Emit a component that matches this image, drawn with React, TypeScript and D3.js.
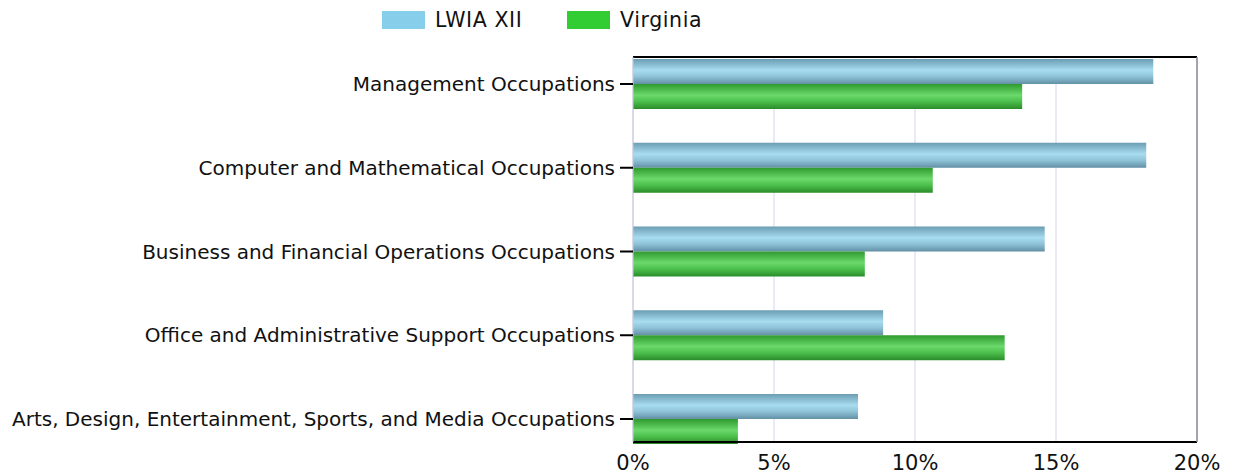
import React, { useRef, useEffect } from "react";
import * as d3 from "d3";

const CATEGORIES = [
  "Management Occupations",
  "Computer and Mathematical Occupations",
  "Business and Financial Operations Occupations",
  "Office and Administrative Support Occupations",
  "Arts, Design, Entertainment, Sports, and Media Occupations",
];
const SERIES = ["LWIA XII", "Virginia"];
const LWIA_VALUES = [18.45, 18.2, 14.6, 8.87, 7.98];
const VIRGINIA_VALUES = [13.8, 10.63, 8.22, 13.18, 3.72];
const X_TICKS = [0, 5, 10, 15, 20];

const LEGEND_COLORS = ["#87ceeb", "#32cd32"];
const GRAD_STOPS = [
  ["#6b9db3", "#a8dcef", "#8fc3d8", "#6290a5"],
  ["#2f9a2f", "#6bd96b", "#4cbf4c", "#2a8c2a"],
];

const W = 1233;
const H = 475;

const App: React.FC = () => {
  const svgRef = useRef<SVGSVGElement | null>(null);

  useEffect(() => {
    if (!svgRef.current) return;
    const svg = d3.select(svgRef.current);
    svg.selectAll("*").remove();

    const margin = { top: 57, right: 36, bottom: 33, left: 633 };
    const innerW = W - margin.left - margin.right;
    const innerH = H - margin.top - margin.bottom;
    const font = "'DejaVu Sans', Verdana, sans-serif";

    const defs = svg.append("defs");
    GRAD_STOPS.forEach((stops, i) => {
      const grad = defs
        .append("linearGradient")
        .attr("id", `grad-${i}`)
        .attr("x1", 0)
        .attr("y1", 0)
        .attr("x2", 0)
        .attr("y2", 1);
      [0, 0.45, 0.7, 1].forEach((o, j) =>
        grad.append("stop").attr("offset", o).attr("stop-color", stops[j])
      );
    });

    const x = d3.scaleLinear().domain([0, 20]).range([0, innerW]);
    const y = d3
      .scalePoint<string>()
      .domain(CATEGORIES)
      .range([27, innerH - 23]);
    const barH = 25;

    const g = svg
      .append("g")
      .attr("transform", `translate(${margin.left},${margin.top})`);

    /* grid */
    g.append("g")
      .selectAll("line")
      .data(X_TICKS)
      .join("line")
      .attr("x1", (d) => x(d))
      .attr("x2", (d) => x(d))
      .attr("y1", 0)
      .attr("y2", innerH)
      .attr("stroke", "#e2e2f4")
      .attr("stroke-width", 1.5);

    /* bars */
    const rows = CATEGORIES.map((c, i) => ({
      cat: c,
      vals: [LWIA_VALUES[i], VIRGINIA_VALUES[i]],
    }));
    rows.forEach((r) => {
      r.vals.forEach((v, si) => {
        const top = y(r.cat)! + (si === 0 ? -barH : 0);
        g.append("rect")
          .attr("x", x(0))
          .attr("y", top)
          .attr("width", x(v) - x(0))
          .attr("height", barH)
          .attr("fill", `url(#grad-${si})`);
      });
    });

    /* frame */
    g.append("line")
      .attr("x1", 0).attr("x2", innerW).attr("y1", 0).attr("y2", 0)
      .attr("stroke", "#000").attr("stroke-width", 2);
    g.append("line")
      .attr("x1", 0).attr("x2", innerW).attr("y1", innerH).attr("y2", innerH)
      .attr("stroke", "#000").attr("stroke-width", 2);
    g.append("line")
      .attr("x1", innerW).attr("x2", innerW).attr("y1", 0).attr("y2", innerH)
      .attr("stroke", "#8a8a9a").attr("stroke-width", 1.5);
    g.append("line")
      .attr("x1", 0).attr("x2", 0).attr("y1", 0).attr("y2", innerH)
      .attr("stroke", "#c8c8d8").attr("stroke-width", 1);

    /* y axis ticks + labels */
    const yg = g.append("g");
    yg.selectAll("line")
      .data(CATEGORIES)
      .join("line")
      .attr("x1", -13)
      .attr("x2", 0)
      .attr("y1", (d) => y(d)!)
      .attr("y2", (d) => y(d)!)
      .attr("stroke", "#000")
      .attr("stroke-width", 2);
    yg.selectAll("text")
      .data(CATEGORIES)
      .join("text")
      .attr("x", -18)
      .attr("y", (d) => y(d)!)
      .attr("dy", "0.35em")
      .attr("text-anchor", "end")
      .attr("font-family", font)
      .attr("font-size", "20px")
      .attr("fill", "#111")
      .text((d) => d);

    /* x tick labels */
    g.append("g")
      .selectAll("text")
      .data(X_TICKS)
      .join("text")
      .attr("x", (d) => x(d))
      .attr("y", innerH + 28)
      .attr("text-anchor", "middle")
      .attr("font-family", font)
      .attr("font-size", "21px")
      .attr("fill", "#111")
      .text((d) => `${d}%`);

    /* legend */
    const legendX = [382, 567];
    const lg = svg.append("g");
    SERIES.forEach((s, i) => {
      lg.append("rect")
        .attr("x", legendX[i])
        .attr("y", 11)
        .attr("width", 43)
        .attr("height", 18)
        .attr("fill", LEGEND_COLORS[i]);
      lg.append("text")
        .attr("x", legendX[i] + 53)
        .attr("y", 20)
        .attr("dy", "0.35em")
        .attr("font-family", font)
        .attr("font-size", "20.5px")
        .attr("letter-spacing", "0.6px")
        .attr("fill", "#111")
        .text(s);
    });
  }, []);

  return (
    <svg
      ref={svgRef}
      width={W}
      height={H}
      style={{ display: "block", position: "absolute", left: 0, top: 0 }}
    />
  );
};

export default App;
